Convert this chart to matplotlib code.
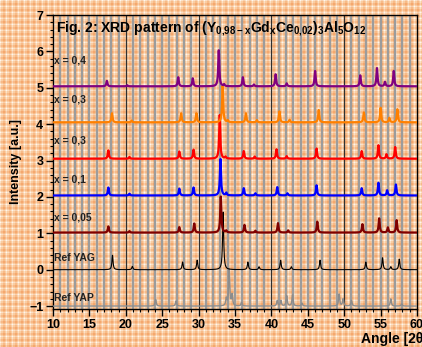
import numpy as np
import matplotlib.pyplot as plt
from matplotlib.ticker import MultipleLocator

plt.rcParams['font.family'] = 'Liberation Sans'
plt.rcParams['font.weight'] = 'bold'
plt.rcParams['mathtext.fontset'] = 'custom'
plt.rcParams['mathtext.rm'] = 'Liberation Sans'
plt.rcParams['mathtext.bf'] = 'Liberation Sans:bold'

# series: labels, offsets, colours, peak tables (2theta, height)
labels = ['Ref YAP', 'Ref YAG', 'x = 0,05', 'x = 0,1', 'x = 0,3', 'x = 0,3', 'x = 0,4']
offsets = [-1.0, 0.0, 1.02, 2.04, 3.05, 4.05, 5.04]
label_y = [-0.78, 0.33, 1.43, 2.47, 3.56, 4.69, 5.74]
colors = ['#8c8c8c', 'black', '#800000', '#0000ff', '#ff0000', '#ff8000', '#800080']
widths = [1.0, 0.8, 1.6, 1.6, 1.6, 1.6, 1.6]

yap_pos = [24.1, 26.9, 33.8, 34.2, 34.6, 35.9, 40.8, 41.3, 42.1, 42.9, 44.2, 49.3, 49.85, 51.0, 56.4, 57.9]
yap_h = [0.18, 0.14, 0.2, 1.0, 0.3, 0.1, 0.15, 0.15, 0.28, 0.3, 0.08, 0.33, 0.2, 0.15, 0.2, 0.06]

yag_pos = [18.17, 20.9, 27.8, 29.8, 33.37, 36.77, 38.3, 41.27, 42.74, 46.68, 52.97, 55.27, 56.4, 57.56]
yag_h = [0.4, 0.09, 0.21, 0.26, 1.6, 0.21, 0.08, 0.26, 0.08, 0.26, 0.21, 0.33, 0.08, 0.29]

x005_pos = [17.6, 20.5, 27.35, 29.4, 33.05, 33.8, 36.3, 37.8, 40.9, 42.3, 46.3, 52.5, 54.8, 56.0, 57.2]
x005_h = [0.17, 0.04, 0.15, 0.25, 1.0, 0.05, 0.21, 0.05, 0.26, 0.06, 0.3, 0.23, 0.39, 0.14, 0.34]

x01_pos = [17.6, 20.5, 27.35, 29.3, 33.0, 33.8, 36.2, 37.8, 40.8, 42.2, 46.2, 52.4, 54.7, 55.9, 57.1]
x01_h = [0.22, 0.05, 0.19, 0.22, 1.0, 0.07, 0.2, 0.06, 0.23, 0.06, 0.28, 0.2, 0.35, 0.14, 0.3]

x03a_pos = [17.6, 20.5, 27.35, 29.3, 32.9, 33.7, 36.2, 37.7, 40.7, 42.1, 46.2, 52.4, 54.7, 55.8, 57.0]
x03a_h = [0.23, 0.05, 0.2, 0.25, 1.2, 0.05, 0.21, 0.06, 0.26, 0.07, 0.28, 0.21, 0.37, 0.12, 0.32]

x03b_pos = [18.1, 20.8, 27.6, 29.7, 33.3, 34.0, 36.5, 38.0, 41.1, 42.5, 46.5, 52.7, 55.0, 56.2, 57.3]
x03b_h = [0.25, 0.05, 0.25, 0.25, 1.0, 0.05, 0.25, 0.06, 0.3, 0.07, 0.34, 0.27, 0.4, 0.12, 0.36]

x04_pos = [17.4, 20.2, 27.2, 29.2, 32.77, 33.5, 36.08, 37.6, 40.58, 42.1, 46.0, 52.2, 54.5, 55.6, 56.8]
x04_h = [0.15, 0.03, 0.25, 0.22, 1.0, 0.05, 0.25, 0.05, 0.33, 0.08, 0.42, 0.3, 0.5, 0.12, 0.42]

peak_tables = [(yap_pos, yap_h), (yag_pos, yag_h), (x005_pos, x005_h), (x01_pos, x01_h),
               (x03a_pos, x03a_h), (x03b_pos, x03b_h), (x04_pos, x04_h)]

angle = np.arange(10, 60.001, 0.02)


def pattern(pos, h, hw=0.09):
    y = np.zeros_like(angle)
    for p, a in zip(pos, h):
        y += a / (1 + ((angle - p) / hw) ** 2)
    return y


fig = plt.figure(figsize=(4.22, 3.47), dpi=100)

# orange plaid background
H, W = 347, 422
rows = np.arange(H)[:, None] % 6
cols = np.arange(W)[None, :] % 6
base = np.array([250, 205, 162]) / 255
white = np.array([255, 246, 236]) / 255
dark = np.array([244, 168, 110]) / 255


def stripe(idx):
    out = np.empty(idx.shape + (3,))
    out[:] = base
    out[idx == 0] = white
    out[(idx == 3) | (idx == 4)] = dark
    return out


img = (stripe(np.broadcast_to(rows, (H, W))) + stripe(np.broadcast_to(cols, (H, W)))) / 2
bg = fig.add_axes([0, 0, 1, 1], zorder=-10)
bg.imshow(img, aspect='auto', interpolation='nearest')
bg.axis('off')

ax = fig.add_axes([53 / 422, 1 - 309 / 347, 364 / 422, 294 / 347])
ax.set_facecolor('none')

# vertical grid
minor_x = [v for v in range(11, 60) if v % 10 != 0]
ax.vlines(minor_x, 0, 1, transform=ax.get_xaxis_transform(), color='#9c9c9c', lw=1.7, zorder=1)
ax.vlines([20, 30, 40, 50], 0, 1, transform=ax.get_xaxis_transform(), color='#303030', lw=0.9, zorder=1)

for (pos, h), off, col, lw, lab, ly in zip(peak_tables, offsets, colors, widths, labels, label_y):
    ax.plot(angle, off + pattern(pos, h), color=col, lw=lw, zorder=3)
    ax.text(10.2, ly, lab, fontsize=7.5, fontweight='bold', color='#222222', va='center', zorder=4)

ax.text(0.008, 0.985,
        r"Fig. 2: XRD pattern of $\mathbf{(Y}_{\mathrm{0{,}98-x}}\mathbf{Gd}_{\mathrm{x}}\mathbf{Ce}_{\mathrm{0{,}02}}"
        r"\mathbf{)}_{\mathrm{3}}\mathbf{Al}_{\mathrm{5}}\mathbf{O}_{\mathrm{12}}$",
        transform=ax.transAxes, fontsize=10, fontweight='bold', va='top', ha='left', zorder=5)

ax.set_xlim(10, 60)
ax.set_ylim(-1.08, 7)
ax.xaxis.set_major_locator(MultipleLocator(5))
ax.xaxis.set_minor_locator(MultipleLocator(1))
ax.yaxis.set_major_locator(MultipleLocator(1))
ax.yaxis.set_minor_locator(MultipleLocator(0.2))
ax.tick_params(which='major', direction='out', length=5, width=1, labelsize=9, pad=2)
ax.tick_params(which='minor', direction='out', length=2.5, width=0.8)
for s in ax.spines.values():
    s.set_linewidth(1.0)

ax.set_ylabel('Intensity [a.u.]', fontsize=9, fontweight='bold', labelpad=5)
fig.text(361 / 422, 1 - 339 / 347, 'Angle [2θ]', fontsize=10, fontweight='bold', ha='left', va='center')

fig.savefig('out.png', dpi=100)
